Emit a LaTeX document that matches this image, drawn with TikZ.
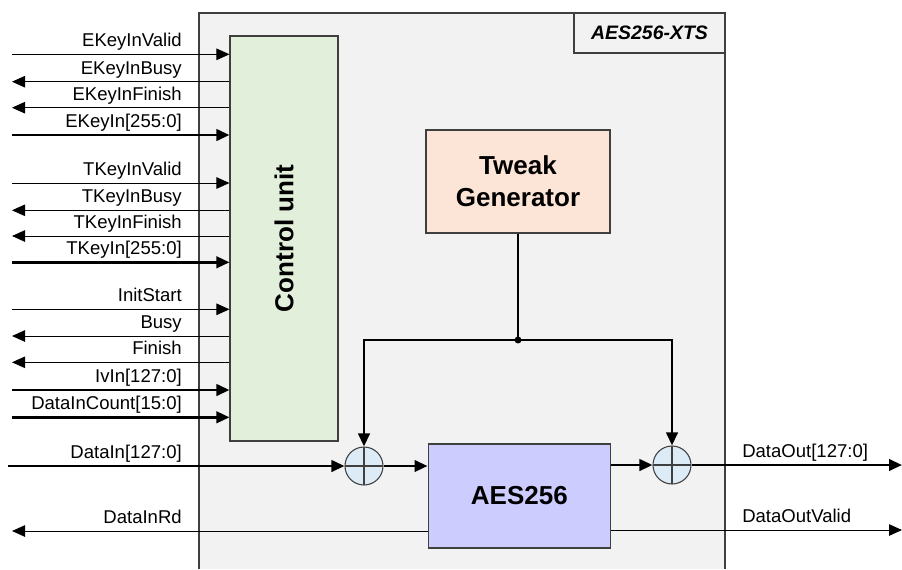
\documentclass[tikz,border=0pt]{standalone}
\usepackage{fontspec}
\setmainfont{Liberation Sans}
\usetikzlibrary{arrows.meta,positioning,calc}

\definecolor{shellgray}{HTML}{F2F2F2}
\definecolor{framegray}{HTML}{3F3F3F}
\definecolor{ctrlgreen}{HTML}{E2EFDA}
\definecolor{tweakpeach}{HTML}{FCE4D6}
\definecolor{aesviolet}{HTML}{CCCCFF}
\definecolor{xorblue}{HTML}{DDEBF7}

\tikzset{
  block/.style={draw=framegray, line width=0.8pt, inner sep=0pt, align=center,
    font=\fontsize{19.5}{24}\selectfont\bfseries},
  xorgate/.style={circle, draw=framegray, fill=xorblue, line width=0.8pt, minimum size=28.5pt, inner sep=0pt,
    path picture={\draw[framegray, line width=0.8pt]
      (path picture bounding box.north) -- (path picture bounding box.south)
      (path picture bounding box.west) -- (path picture bounding box.east);}},
  sig/.style={line width=0.75pt, -{Triangle[length=9.75pt,width=8.6pt]}},
  bus/.style={line width=1.9pt, -{Triangle[length=9.75pt,width=8.6pt]}},
  lbl/.style={anchor=base east, yshift=5.6pt, inner sep=0pt, font=\fontsize{13.9}{16}\selectfont},
  rlbl/.style={anchor=base west, yshift=5.6pt, inner sep=0pt, font=\fontsize{13.9}{16}\selectfont},
}

\begin{document}
\begin{tikzpicture}[x=0.75pt,y=-0.75pt]
        \useasboundingbox (0,0) rectangle (902,569);

        % core frame
        \draw[framegray, fill=shellgray, line width=0.8pt] (199,569) -- (199,13) -- (725,13) -- (725,569);
        \node[draw=framegray, fill=shellgray, line width=0.8pt, minimum width=113.25pt, minimum height=30pt,
              inner sep=0pt, font=\fontsize{14.6}{16}\selectfont\bfseries\itshape] (title) at (649.5,33) {AES256-XTS};

        % blocks
        \node[block, fill=ctrlgreen, minimum width=81pt, minimum height=303.75pt] (cu) at (284,238.5) {};
        \node[rotate=90, font=\fontsize{19.5}{24}\selectfont\bfseries] (cutext) at (cu.center) {Control unit};
        \node[block, fill=tweakpeach, minimum width=138pt, minimum height=77.25pt] (tg) at (518,181.5) {Tweak\\Generator};
        \node[block, fill=aesviolet, minimum width=136.9pt, minimum height=78pt] (aes) at (519.3,496) {AES256};
        \node[xorgate] (x1) at (364,466) {};
        \node[xorgate] (x2) at (672,465) {};
        \coordinate (jn) at (518,340);

        \coordinate (edge) at (12,0);
        \coordinate (redge) at (902,0);

        % key signals
        \coordinate (ekvalid) at (182,54.3);
        \draw[sig] (edge |- ekvalid) -- (cu.west |- ekvalid);
        \node[lbl] (t-ekvalid) at (ekvalid) {EKeyInValid};
        \coordinate (ekbusy) at (182,81.7);
        \draw[sig] (cu.west |- ekbusy) -- (edge |- ekbusy);
        \node[lbl] (t-ekbusy) at (ekbusy) {EKeyInBusy};
        \coordinate (ekfin) at (182,107.7);
        \draw[sig] (cu.west |- ekfin) -- (edge |- ekfin);
        \node[lbl] (t-ekfin) at (ekfin) {EKeyInFinish};
        \coordinate (ekey) at (182,135);
        \draw[bus] (edge |- ekey) -- (cu.west |- ekey);
        \node[lbl] (t-ekey) at (ekey) {EKeyIn[255:0]};

        \coordinate (tkvalid) at (182,183);
        \draw[sig] (edge |- tkvalid) -- (cu.west |- tkvalid);
        \node[lbl] (t-tkvalid) at (tkvalid) {TKeyInValid};
        \coordinate (tkbusy) at (182,210.3);
        \draw[sig] (cu.west |- tkbusy) -- (edge |- tkbusy);
        \node[lbl] (t-tkbusy) at (tkbusy) {TKeyInBusy};
        \coordinate (tkfin) at (182,236);
        \draw[sig] (cu.west |- tkfin) -- (edge |- tkfin);
        \node[lbl] (t-tkfin) at (tkfin) {TKeyInFinish};
        \coordinate (tkey) at (182,262.3);
        \draw[bus] (edge |- tkey) -- (cu.west |- tkey);
        \node[lbl] (t-tkey) at (tkey) {TKeyIn[255:0]};

        % init / data control
        \coordinate (istart) at (182,309.3);
        \draw[sig] (edge |- istart) -- (cu.west |- istart);
        \node[lbl] (t-istart) at (istart) {InitStart};
        \coordinate (busy) at (182,336);
        \draw[sig] (cu.west |- busy) -- (edge |- busy);
        \node[lbl] (t-busy) at (busy) {Busy};
        \coordinate (fin) at (182,362.3);
        \draw[sig] (cu.west |- fin) -- (edge |- fin);
        \node[lbl] (t-fin) at (fin) {Finish};
        \coordinate (ivin) at (182,390);
        \draw[bus] (edge |- ivin) -- (cu.west |- ivin);
        \node[lbl] (t-ivin) at (ivin) {IvIn[127:0]};
        \coordinate (dcount) at (182,417.3);
        \draw[bus] (edge |- dcount) -- (cu.west |- dcount);
        \node[lbl] (t-dcount) at (dcount) {DataInCount[15:0]};

        % data path
        \coordinate (din) at (182,466);
        \draw[bus] ([xshift=-3pt]edge |- din) -- (x1.west);
        \node[lbl] (t-din) at (din) {DataIn[127:0]};
        \coordinate (dinrd) at (182,531);
        \draw[sig] (aes.west |- dinrd) -- (edge |- dinrd);
        \node[lbl] (t-dinrd) at (dinrd) {DataInRd};
        \draw[bus] (x1.east) -- (x1.east -| aes.west);
        \draw[bus] (aes.east |- x2.west) -- (x2.west);
        \coordinate (dout) at (742,465);
        \draw[bus] (x2.east) -- (redge |- dout);
        \node[rlbl] (t-dout) at (dout) {DataOut[127:0]};
        \coordinate (doutv) at (742,530);
        \draw[sig] (aes.east |- doutv) -- (redge |- doutv);
        \node[rlbl] (t-doutv) at (doutv) {DataOutValid};

        % tweak distribution
        \draw[line width=1.9pt] (tg.south) -- (jn);
        \fill (jn) circle (2.6pt);
        \draw[bus] (jn) -| (x1.north);
        \draw[bus] (jn) -| (x2.north);
\end{tikzpicture}
\end{document}
